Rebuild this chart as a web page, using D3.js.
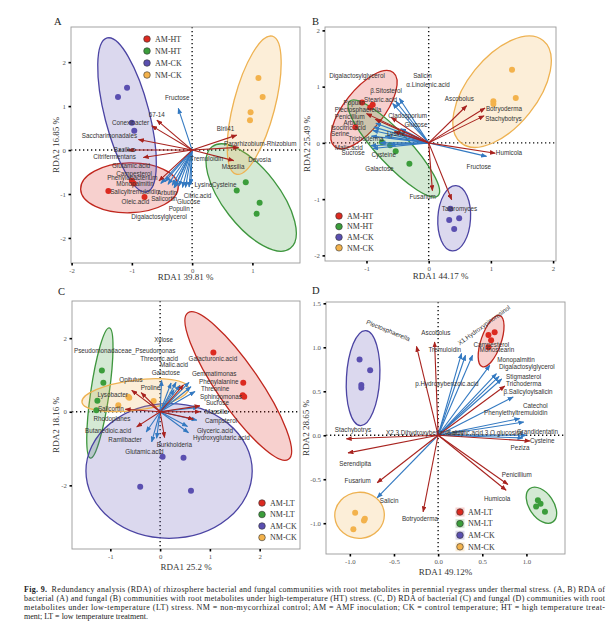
<!DOCTYPE html>
<html>
<head>
<meta charset="utf-8">
<script src="https://cdn.jsdelivr.net/npm/d3@7"></script>
<style>
  body { margin: 0; background: #fff; }
  svg { display: block; }
  .lab { font-family: "Liberation Sans", Arial, sans-serif; font-size: 6.3px; fill: #333; }
  .tick text { font-family: "Liberation Serif", "Times New Roman", serif; font-size: 6.8px; fill: #555; }
  .ttl { font-family: "Liberation Serif", "Times New Roman", serif; font-size: 9px; fill: #333; }
  .leg { font-family: "Liberation Serif", "Times New Roman", serif; font-size: 8px; fill: #333; }
  .cap { font-family: "Liberation Serif", "Times New Roman", serif; font-size: 8px; fill: #222; }
</style>
</head>
<body>
<svg id="fig" width="611" height="638"></svg>
<script>
/* DATA */
const legendHT = ["AM-HT", "NM-HT", "AM-CK", "NM-CK"];
const legendLT = ["AM-LT", "NM-LT", "AM-CK", "NM-CK"];

// panel A - bacteria, high temperature
const pointsA = [
  ["AM-HT", -1.00, -0.70], ["AM-HT", -0.97, -0.76], ["AM-HT", -1.39, -0.93], ["AM-HT", -0.79, -1.07],
  ["NM-HT", 0.89, -0.73], ["NM-HT", 0.74, -0.92], ["NM-HT", 1.12, -1.20], ["NM-HT", 1.07, -1.45],
  ["AM-CK", -1.23, 1.21], ["AM-CK", -1.08, 1.42], ["AM-CK", -1.00, 0.62], ["AM-CK", -0.96, 0.44],
  ["NM-CK", 1.10, 1.64], ["NM-CK", 1.17, 1.21], ["NM-CK", 0.97, 0.86], ["NM-CK", 0.96, 0.68]
];
// group, centre x, centre y, major semi-axis vector (x, y), minor/major ratio
const ellipsesA = [
  ["AM-HT", -1.04, -0.86, 0.81, 0.03, 0.51],
  ["NM-HT", 0.98, -1.08, -0.65, 1.155, 0.44],
  ["AM-CK", -1.08, 0.80, -0.33, 1.75, 0.28],
  ["NM-CK", 1.03, 1.02, 0.30, 1.57, 0.29]
];
const bacteriaA = [
  ["67-14", -0.585, 0.68], ["Conexibacter", -0.67, 0.55], ["Saccharimonadales", -0.89, 0.24],
  ["Bacillus", -1.06, 0.0], ["Citrifermentans", -0.81, -0.17], ["Phenylobacterium", -0.55, -0.70],
  ["Blrii41", 0.74, 0.34], ["Pararhizobium-Rhizobium", 0.77, 0.06], ["Massilia", 0.69, -0.24]
];
const metabolitesA = [
  ["Fructose", -0.23, 0.95], ["Oleic.acid", -0.52, -0.76], ["Monopalmitin", -0.45, -0.72],
  ["Salicyltremuloidin", -0.40, -0.78], ["Arbutin", -0.33, -0.80], ["Salicortin", -0.28, -0.84],
  ["Glucose", -0.22, -0.82], ["Populin", -0.16, -0.85], ["Citric.acid", -0.11, -0.85],
  ["Lysine", -0.05, -0.84], ["Cysteine", -0.02, -0.78], ["Digalactosylglycerol", -0.30, -0.86]
];
const labelsA = [
  ["Fructose", -0.45, 1.20], ["67-14", -0.72, 0.81], ["Conexibacter", -1.33, 0.63],
  ["Saccharimonadales", -1.83, 0.32], ["Blrii41", 0.41, 0.49], ["Pararhizobium-Rhizobium", 0.53, 0.15],
  ["Bacillus", -1.30, 0.0], ["Citrifermentans", -1.64, -0.15], ["Tremuloidin", -0.03, -0.20],
  ["Devosia", 0.93, -0.23], ["Massilia", 0.49, -0.38], ["Glutamic.acid", -1.33, -0.36],
  ["Campesterol", -1.26, -0.53], ["Phenylobacterium", -1.41, -0.64], ["Monopalmitin", -1.26, -0.77],
  ["Salicyltremuloidin", -1.36, -0.95], ["Oleic.acid", -1.17, -1.18], ["Arbutin", -0.58, -0.98],
  ["Salicortin", -0.68, -1.12], ["Lysine", 0.04, -0.80], ["Cysteine", 0.33, -0.80],
  ["Citric.acid", -0.14, -1.04], ["Glucose", -0.25, -1.18], ["Populin", -0.39, -1.34],
  ["Digalactosylglycerol", -1.01, -1.53]
];

// panel B - fungi, high temperature
const pointsB = [
  ["AM-HT", -1.07, 0.72], ["AM-HT", -0.94, 0.63], ["AM-HT", -0.90, 0.68], ["AM-HT", -1.18, 0.28],
  ["NM-HT", -0.75, 0.01], ["NM-HT", -0.62, -0.04], ["NM-HT", -0.53, -0.15], ["NM-HT", -0.31, -0.37],
  ["AM-CK", 0.35, -1.17], ["AM-CK", 0.33, -1.37], ["AM-CK", 0.49, -1.34], ["AM-CK", 0.41, -1.53],
  ["NM-CK", 1.34, 1.30], ["NM-CK", 1.40, 0.80], ["NM-CK", 1.04, 0.74], ["NM-CK", 1.04, 0.69]
];
const ellipsesB = [
  ["AM-HT", -1.04, 0.59, 0.47, 0.66, 0.42],
  ["NM-HT", -0.56, -0.10, 0.71, -0.84, 0.25],
  ["AM-CK", 0.41, -1.34, 0.03, 0.58, 0.50],
  ["NM-CK", 1.18, 0.91, 0.66, 0.91, 0.53]
];
const fungiB = [
  ["Ascobolus", 0.61, 0.66], ["Botryoderma", 0.905, 0.62], ["Stachybotrys", 0.89, 0.48],
  ["Humicola", 1.07, -0.185], ["Fusarium", 0.06, -0.85], ["Talaromyces", 0.37, -1.01],
  ["Cladosporium", -0.60, 0.45], ["Plectosphaerella", -1.0, 0.52], ["Penicillium", -0.86, 0.42],
  ["Trichoderma", -0.55, 0.20]
];
const metabolitesB = [
  ["Salicin", -0.47, 0.79], ["α.Linolenic.acid", -0.53, 0.74], ["Stearic.acid", -0.58, 0.70],
  ["Populin", -0.85, 0.35], ["Arbutin", -0.88, 0.28], ["Isocitric.acid", -0.90, 0.22],
  ["Serine", -0.92, 0.12], ["Lysine", -0.70, 0.12], ["Glucose", -0.45, 0.25],
  ["Malic.acid", -0.93, -0.05], ["Sucrose", -0.90, -0.10], ["Cysteine", -0.78, 0.0],
  ["Galactose", -0.62, -0.03], ["Fructose", 0.93, -0.24]
];
const labelsB = [
  ["Digalactosylglycerol", -1.60, 1.20], ["Salicin", -0.25, 1.20], ["α.Linolenic.acid", -0.36, 1.04],
  ["β.Sitosterol", -0.94, 0.92], ["Stearic.acid", -1.04, 0.77], ["Populin", -1.37, 0.72],
  ["Plectosphaerella", -1.51, 0.59], ["Penicillium", -1.51, 0.47], ["Cladosporium", -0.65, 0.48],
  ["Arbutin", -1.37, 0.35], ["Glucose", -0.39, 0.33], ["Isocitric.acid", -1.57, 0.26],
  ["Serine", -1.57, 0.16], ["Lysine", -0.67, 0.16], ["Trichoderma", -1.29, 0.08],
  ["Malic.acid", -1.51, -0.08], ["Sucrose", -1.40, -0.18], ["Cysteine", -0.92, -0.21],
  ["Galactose", -1.02, -0.46], ["Fusarium", -0.31, -0.95], ["Talaromyces", 0.21, -1.17],
  ["Humicola", 1.08, -0.18], ["Fructose", 0.61, -0.42], ["Ascobolus", 0.26, 0.78],
  ["Botryoderma", 0.92, 0.60], ["Stachybotrys", 0.91, 0.43]
];

// panel C - bacteria, low temperature
const pointsC = [
  ["AM-LT", 1.07, 1.61], ["AM-LT", 1.67, 0.79], ["AM-LT", 1.69, 0.41], ["AM-LT", 1.66, 0.45],
  ["NM-LT", -1.17, 1.12], ["NM-LT", -1.14, 0.79], ["NM-LT", -1.26, 0.30], ["NM-LT", -1.28, 0.04],
  ["AM-CK", 0.05, -1.22], ["AM-CK", 0.47, -1.25], ["AM-CK", -0.40, -2.04], ["AM-CK", 0.62, -2.15],
  ["NM-CK", -0.64, 0.41], ["NM-CK", -0.84, 0.18], ["NM-CK", -0.13, 0.29], ["NM-CK", -0.62, 0.38]
];
const ellipsesC = [
  ["AM-LT", 1.57, 0.70, 1.01, -1.99, 0.24],
  ["NM-LT", -1.21, 0.51, 0.19, 1.77, 0.14],
  ["AM-CK", 0.18, -1.61, 1.67, 0.0, 0.81],
  ["NM-CK", -0.50, 0.45, 1.07, 0.19, 0.28]
];
const bacteriaC = [
  ["Opitutus", -0.57, 0.58], ["Lysobacter", -0.38, 0.52], ["Rhodoplanes", -0.70, 0.07],
  ["Ramlibacter", -0.47, -0.41], ["Burkholderia", 0.09, -0.70], ["Gemmatimonas", 0.47, 0.73],
  ["Sphingomonas", 0.80, 0.16], ["Massilia", 0.80, 0.0], ["Pseudomonadaceae_Pseudomonas", 0.67, -0.20]
];
const metabolitesC = [
  ["Xylose", 0.03, 0.85], ["Threonic.acid", 0.22, 0.78], ["Malic.acid", 0.32, 0.80],
  ["Galactose", 0.40, 0.72], ["Galacturonic.acid", 0.58, 0.80], ["Phenylalanine", 0.62, 0.68],
  ["Threonine", 0.70, 0.55], ["Proline", 0.28, 0.60], ["Sucrose", 0.77, 0.12],
  ["Campsterol", 0.74, -0.23], ["Glyceric.acid", 0.55, -0.40], ["Hydroxyglutaric.acid", 0.57, -0.57],
  ["Glutamic.acid", -0.17, -0.82], ["Salicortin", -0.07, -0.72], ["Butanedioic.acid", -0.28, -0.55]
];
const labelsC = [
  ["Xylose", -0.12, 1.95], ["Pseudomonadaceae_Pseudomonas", -1.73, 1.65], ["Threonic.acid", -0.40, 1.43],
  ["Malic.acid", 0.0, 1.27], ["Galacturonic.acid", 0.57, 1.43], ["Galactose", -0.17, 1.07],
  ["Gemmatimonas", 0.64, 1.04], ["Opitutus", -0.82, 0.88], ["Proline", -0.39, 0.65],
  ["Phenylalanine", 0.78, 0.82], ["Threonine", 0.82, 0.62], ["Sphingomonas", 0.80, 0.41],
  ["Lysobacter", -1.26, 0.47], ["Sucrose", 0.92, 0.23], ["Salicortin", -1.25, 0.07],
  ["Massilia", 0.90, 0.0], ["Rhodoplanes", -1.34, -0.20], ["Campsterol", 0.90, -0.25],
  ["Butanedioic.acid", -1.51, -0.52], ["Glyceric.acid", 0.74, -0.51], ["Ramlibacter", -1.04, -0.77],
  ["Hydroxyglutaric.acid", 0.66, -0.72], ["Burkholderia", -0.07, -0.90], ["Glutamic.acid", -0.70, -1.10]
];

// panel D - fungi, low temperature
const pointsD = [
  ["AM-LT", 0.57, 1.14], ["AM-LT", 0.64, 1.17], ["AM-LT", 0.57, 1.00], ["AM-LT", 0.60, 1.08],
  ["NM-LT", 1.13, -0.74], ["NM-LT", 1.16, -0.78], ["NM-LT", 1.11, -0.81], ["NM-LT", 1.21, -0.87],
  ["AM-CK", -0.89, 0.86], ["AM-CK", -0.77, 0.74], ["AM-CK", -0.87, 0.57], ["AM-CK", -0.87, 0.54],
  ["NM-CK", -0.94, -0.88], ["NM-CK", -0.83, -0.95], ["NM-CK", -0.84, -0.97], ["NM-CK", -0.96, -1.07]
];
const ellipsesD = [
  ["AM-LT", 0.60, 1.07, 0.10, 0.29, 0.37],
  ["NM-LT", 1.17, -0.795, 0.13, -0.19, 0.60],
  ["AM-CK", -0.85, 0.65, 0.03, 0.54, 0.35],
  ["NM-CK", -0.89, -0.91, 0.28, 0.02, 0.93]
];
const fungiD = [
  ["Plectosphaerella", -0.245, 1.01], ["Ascobolus", -0.04, 1.06], ["Trichoderma", 0.755, 0.56],
  ["Stachybotrys", -1.04, -0.04], ["Serendipita", -1.02, -0.20], ["Fusarium", -0.69, -0.54],
  ["Botryoderma", -0.17, -0.87], ["Penicillium", 0.79, -0.56], ["Humicola", 0.77, -0.625],
  ["Peziza", 1.04, -0.065]
];
const metabolitesD = [
  ["Tremuloidin", 0.265, 0.93], ["X1.Hydroxypinoresinol", 0.31, 0.91], ["Campesterol", 0.39, 0.91],
  ["Monostearin", 0.585, 0.795], ["Monopalmitin", 0.66, 0.70], ["Digalactosylglycerol", 0.69, 0.67],
  ["Stigmasterol", 0.72, 0.64], ["β.Salicyloylsalicin", 0.85, 0.435], ["Catechol", 0.925, 0.19],
  ["Phenylethyltremuloidin", 0.97, 0.15], ["Grandidentatin", 1.0, 0.0], ["Cysteine", 0.96, -0.03],
  ["Salicin", -0.69, -0.71]
];
const labelsD = [
  ["Plectosphaerella", -0.81, 1.29], ["Ascobolus", -0.19, 1.16], ["X1.Hydroxypinoresinol", 0.23, 1.04],
  ["Tremuloidin", -0.11, 0.97], ["Campesterol", 0.40, 1.03], ["Monostearin", 0.47, 0.97],
  ["Monopalmitin", 0.67, 0.86], ["Digalactosylglycerol", 0.69, 0.78], ["Stigmasterol", 0.77, 0.67],
  ["Trichoderma", 0.77, 0.58], ["β.Salicyloylsalicin", 0.74, 0.49], ["p.Hydroxybenzoic.acid", -0.26, 0.58],
  ["Catechol", 0.96, 0.34], ["Phenylethyltremuloidin", 0.52, 0.25], ["Stachybotrys", -1.17, 0.06],
  ["X2.3.Dihydroxybenzoic.acid", -0.59, 0.03], ["Salicylic.acid.3.O.glucoside", 0.10, 0.03],
  ["Grandidentatin", 0.89, 0.04], ["Cysteine", 1.04, -0.06], ["Peziza", 0.82, -0.14],
  ["Serendipita", -1.12, -0.32], ["Penicillium", 0.72, -0.45], ["Fusarium", -1.06, -0.52],
  ["Humicola", 0.52, -0.72], ["Salicin", -0.66, -0.75], ["Botryoderma", -0.41, -0.95]
];

const captionLines = [
  "Redundancy analysis (RDA) of rhizosphere bacterial and fungal communities with root metabolites in perennial ryegrass under thermal stress. (A, B) RDA of",
  "bacterial (A) and fungal (B) communities with root metabolites under high-temperature (HT) stress. (C, D) RDA of bacterial (C) and fungal (D) communities with root",
  "metabolites under low-temperature (LT) stress. NM = non-mycorrhizal control; AM = AMF inoculation; CK = control temperature; HT = high temperature treat-",
  "ment; LT = low temperature treatment."
];

/* STYLE */
const groupFill = ["#dc2a20", "#3b9d3b", "#5a4fb0", "#f3b24c"];
const groupLine = ["#c0271e", "#3e963e", "#4b44a3", "#eeb252"];
const arrowRed = "#a8231f", arrowBlue = "#3379c1";
const rotated = { "Plectosphaerella@D": 22, "X1.Hydroxypinoresinol@D": -36 };

const svg = d3.select("#fig");
const defs = svg.append("defs");
[["red", arrowRed], ["blue", arrowBlue]].forEach(([id, c]) => {
  defs.append("marker")
    .attr("id", "head-" + id)
    .attr("viewBox", "0 0 10 8")
    .attr("refX", 9).attr("refY", 4)
    .attr("markerUnits", "userSpaceOnUse")
    .attr("markerWidth", 6).attr("markerHeight", 4.8)
    .attr("orient", "auto")
    .append("path").attr("d", "M0,0 L10,4 L0,8 Z").attr("fill", c);
});

function drawPanel(p) {
  const [x0, x1, y0, y1] = p.box;
  const x = d3.scaleLinear().domain(p.xDom).range([x0, x1]);
  const y = d3.scaleLinear().domain(p.yDom).range([y1, y0]);
  const color = d3.scaleOrdinal().domain(p.legend).range(groupFill);
  const stroke = d3.scaleOrdinal().domain(p.legend).range(groupLine);
  const g = svg.append("g");

  defs.append("clipPath").attr("id", "clip" + p.name)
    .append("rect").attr("x", x0).attr("y", y0).attr("width", x1 - x0).attr("height", y1 - y0);
  const inner = g.append("g").attr("clip-path", `url(#clip${p.name})`);

  // zero lines
  inner.append("line").attr("x1", x0).attr("x2", x1).attr("y1", y(0)).attr("y2", y(0))
    .attr("stroke", "#111").attr("stroke-width", 1.4).attr("stroke-dasharray", "1.3,2.7");
  inner.append("line").attr("x1", x(0)).attr("x2", x(0)).attr("y1", y0).attr("y2", y1)
    .attr("stroke", "#111").attr("stroke-width", 1.4).attr("stroke-dasharray", "1.3,2.7");

  // confidence ellipses
  const sx = x(1) - x(0), sy = y(0) - y(1);
  inner.selectAll(".ell").data(p.ellipses).join("ellipse")
    .attr("class", "ell")
    .each(function (d) {
      const vx = d[3] * sx, vy = -d[4] * sy;
      const len = Math.hypot(vx, vy);
      const ang = Math.atan2(vy, vx) * 180 / Math.PI;
      d3.select(this)
        .attr("cx", 0).attr("cy", 0).attr("rx", len).attr("ry", len * d[5])
        .attr("transform", `translate(${x(d[1])},${y(d[2])}) rotate(${ang})`);
    })
    .attr("fill", d => color(d[0])).attr("fill-opacity", 0.22)
    .attr("stroke", d => stroke(d[0])).attr("stroke-width", 1.3);

  // sample points
  inner.selectAll(".pt").data(p.points).join("circle")
    .attr("class", "pt")
    .attr("cx", d => x(d[1])).attr("cy", d => y(d[2])).attr("r", 3)
    .attr("fill", d => color(d[0]));

  // arrows: taxa (red) and metabolites (blue)
  [[p.metabolites, arrowBlue, "blue"], [p.taxa, arrowRed, "red"]].forEach(([arr, c, id]) => {
    inner.append("g").selectAll("line").data(arr).join("line")
      .attr("x1", x(0)).attr("y1", y(0))
      .attr("x2", d => x(d[1])).attr("y2", d => y(d[2]))
      .attr("stroke", c).attr("stroke-width", 1.1)
      .attr("marker-end", `url(#head-${id})`);
  });

  // labels
  g.append("g").selectAll("text").data(p.labels).join("text")
    .attr("class", "lab")
    .attr("x", d => x(d[1])).attr("y", d => y(d[2])).attr("dy", "0.35em")
    .attr("transform", d => {
      const r = rotated[d[0] + "@" + p.name];
      return r ? `rotate(${r},${x(d[1])},${y(d[2])})` : null;
    })
    .text(d => d[0]);

  // frame
  g.append("rect").attr("x", x0).attr("y", y0).attr("width", x1 - x0).attr("height", y1 - y0)
    .attr("fill", "none").attr("stroke", "#9a9a9a").attr("stroke-width", 0.9);

  // axes
  const fmt = p.fmt;
  const xa = g.append("g").attr("transform", `translate(0,${y1})`)
    .call(d3.axisBottom(x).tickValues(p.xTicks).tickSize(2.5).tickPadding(2.5).tickFormat(fmt));
  const ya = g.append("g").attr("transform", `translate(${x0},0)`)
    .call(d3.axisLeft(y).tickValues(p.yTicks).tickSize(2.5).tickPadding(2.5).tickFormat(fmt));
  [xa, ya].forEach(a => {
    a.select(".domain").remove();
    a.selectAll(".tick line").attr("stroke", "#000").attr("stroke-width", 1.6);
  });

  // titles
  g.append("text").attr("class", "ttl").attr("text-anchor", "middle")
    .attr("x", (x0 + x1) / 2).attr("y", y1 + p.xTitleOff).text(p.xTitle);
  g.append("text").attr("class", "ttl").attr("text-anchor", "middle")
    .attr("transform", `translate(${p.yTitleX},${(y0 + y1) / 2}) rotate(-90)`).text(p.yTitle);
  g.append("text").attr("class", "ttl").style("font-size", "10.5px").style("fill", "#222")
    .attr("x", p.tag[0]).attr("y", p.tag[1]).text(p.name);

  // legend
  const lg = g.append("g").attr("transform", `translate(${p.leg[0]},${p.leg[1]})`);
  const items = lg.selectAll("g").data(p.legend).join("g")
    .attr("transform", (d, i) => `translate(0,${i * p.leg[2]})`);
  if (p.legKeys) {
    items.append("rect").attr("x", -4.5).attr("y", -4.5).attr("width", 9).attr("height", 9)
      .attr("fill", d => color(d)).attr("fill-opacity", 0.22);
  }
  items.append("circle").attr("r", 3.3)
    .attr("fill", d => color(d)).attr("stroke", "#333").attr("stroke-width", 0.6);
  items.append("text").attr("class", "leg").attr("x", 8).attr("dy", "0.35em").text(d => d);
}

const intFmt = d => String(d);
const decFmt = d => d.toFixed(1);

drawPanel({
  name: "A", box: [71, 300, 27, 263], xDom: [-2.01, 1.79], yDom: [-2.57, 2.80],
  xTicks: [-2, -1, 0, 1], yTicks: [-2, -1, 0, 1, 2], fmt: intFmt,
  points: pointsA, ellipses: ellipsesA, taxa: bacteriaA, metabolites: metabolitesA, labels: labelsA,
  legend: legendHT, leg: [147, 39, 12], tag: [54, 25],
  xTitle: "RDA1 39.81 %", xTitleOff: 17, yTitle: "RDA2 16.85 %", yTitleX: 59
});
drawPanel({
  name: "B", box: [325, 556, 27, 261], xDom: [-1.667, 2.047], yDom: [-2.10, 2.06],
  xTicks: [-1, 0, 1, 2], yTicks: [-2, -1, 0, 1, 2], fmt: intFmt,
  points: pointsB, ellipses: ellipsesB, taxa: fungiB, metabolites: metabolitesB, labels: labelsB,
  legend: legendHT, leg: [339, 216, 10.6], tag: [312, 25],
  xTitle: "RDA1 44.17 %", xTitleOff: 18, yTitle: "RDA2 25.49 %", yTitleX: 310
});
drawPanel({
  name: "C", box: [72, 300, 301, 549], xDom: [-1.77, 2.81], yDom: [-3.73, 3.01],
  xTicks: [-1, 0, 1, 2], yTicks: [-2, 0, 2], fmt: intFmt,
  points: pointsC, ellipses: ellipsesC, taxa: bacteriaC, metabolites: metabolitesC, labels: labelsC,
  legend: legendLT, leg: [262, 503, 11.5], tag: [58, 295],
  xTitle: "RDA1 25.2 %", xTitleOff: 21, yTitle: "RDA2 18.16 %", yTitleX: 59
});
drawPanel({
  name: "D", box: [326, 565, 302, 554], xDom: [-1.27, 1.437], yDom: [-1.35, 1.515],
  xTicks: [-1, -0.5, 0, 0.5, 1], yTicks: [-1, -0.5, 0, 0.5, 1, 1.5], fmt: decFmt,
  points: pointsD, ellipses: ellipsesD, taxa: fungiD, metabolites: metabolitesD, labels: labelsD,
  legend: legendLT, leg: [460, 512, 11.6], tag: [312, 294], legKeys: true,
  xTitle: "RDA1 49.12%", xTitleOff: 21, yTitle: "RDA2 28.65 %", yTitleX: 309
});

// caption
const cap = svg.append("g");
captionLines.forEach((line, i) => {
  const t = cap.append("text").attr("class", "cap").attr("x", 24).attr("y", 592 + i * 9);
  if (i === 0) {
    t.append("tspan").attr("font-weight", "bold").text("Fig. 9.");
    t.append("tspan").text("\u2002" + line);
  } else {
    t.text(line);
  }
  if (i < captionLines.length - 1) t.attr("textLength", 581).attr("lengthAdjust", "spacing");
});
</script>
</body>
</html>
